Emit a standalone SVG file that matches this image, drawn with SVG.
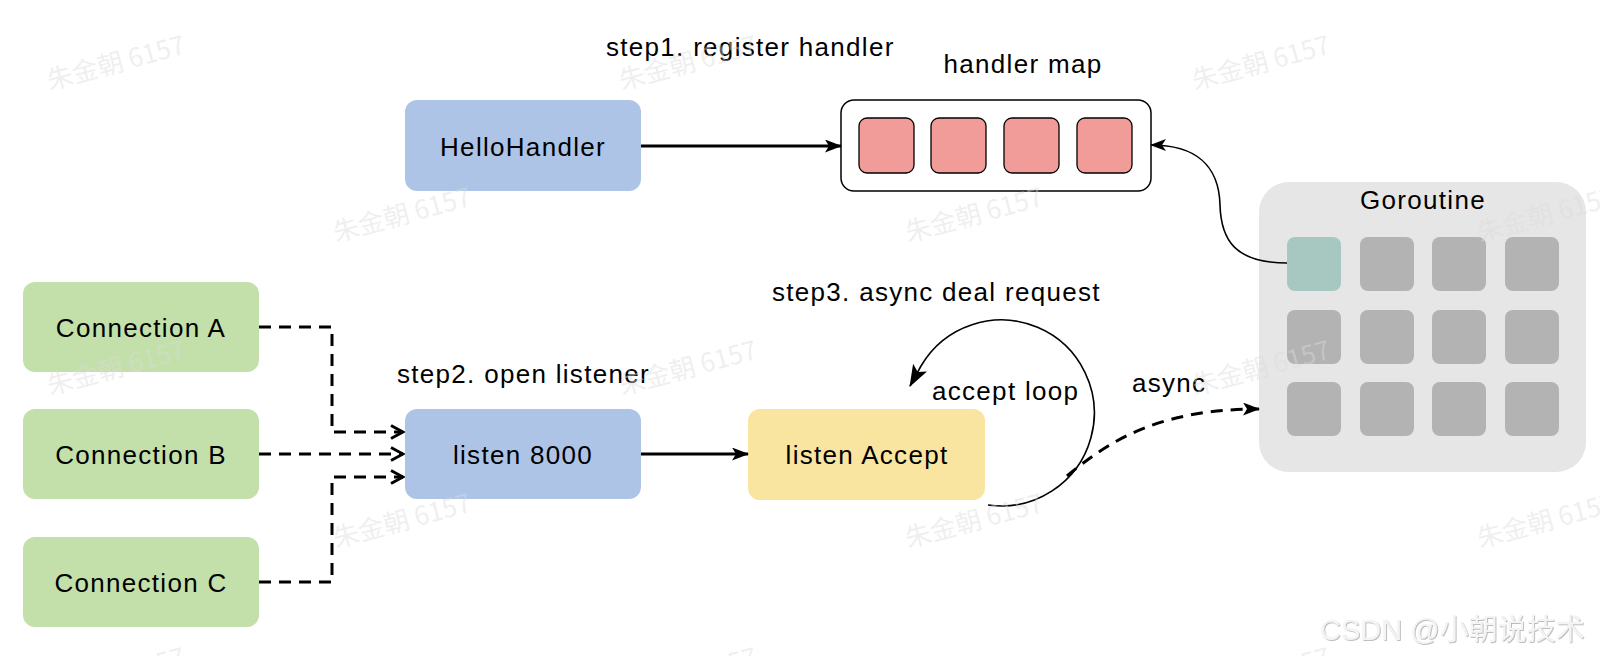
<svg xmlns="http://www.w3.org/2000/svg" width="1600" height="656" viewBox="0 0 1600 656">
  <style>
    .t { font-family: "Liberation Sans", Arial, Helvetica, sans-serif; font-size: 26px; letter-spacing: 1.3px; fill: #000; }
    .c { text-anchor: middle; }
    .blue { fill: #aec4e6; }
    .green { fill: #c3e0aa; }
    .yellow { fill: #fae5a0; }
    .red { fill: #f19c99; stroke: #000; stroke-width: 1.3; }
    .gray { fill: #b3b3b3; }
    .solid { fill: none; stroke: #000; stroke-width: 3; }
    .thin { fill: none; stroke: #000; stroke-width: 1.6; }
    .dash { fill: none; stroke: #000; stroke-width: 3; stroke-dasharray: 12 8; }
    .wm { font-family: "Noto Sans CJK SC", "Liberation Sans", sans-serif; font-size: 26px; fill: #dcdcdc; fill-opacity: 0.45; }
  </style>
  <defs>
    <marker id="arr" viewBox="0 0 17 13" refX="16" refY="6.5" markerWidth="17" markerHeight="13" markerUnits="userSpaceOnUse" orient="auto">
      <path d="M0,0 L17,6.5 L0,13 L4,6.5 Z" fill="#000"/>
    </marker>
    <marker id="arrS" viewBox="0 0 16 12" refX="15" refY="6" markerWidth="16" markerHeight="12" markerUnits="userSpaceOnUse" orient="auto">
      <path d="M0,0 L16,6 L0,12 L4,6 Z" fill="#000"/>
    </marker>
    <marker id="arrL" viewBox="0 0 22 16" refX="21" refY="8" markerWidth="22" markerHeight="16" markerUnits="userSpaceOnUse" orient="auto">
      <path d="M0,0 L22,8 L0,16 L5,8 Z" fill="#000"/>
    </marker>
    <marker id="open" viewBox="0 0 16 16" refX="14" refY="8" markerWidth="16" markerHeight="16" markerUnits="userSpaceOnUse" orient="auto">
      <path d="M2,1.5 L14,8 L2,14.5" fill="none" stroke="#000" stroke-width="3"/>
    </marker>
    <filter id="shadow" x="-5%" y="-20%" width="110%" height="140%">
      <feDropShadow dx="0.8" dy="0.8" stdDeviation="0.6" flood-color="#999" flood-opacity="0.8"/>
    </filter>
  </defs>

  <rect x="0" y="0" width="1600" height="656" fill="#ffffff"/>

  <!-- labels -->
  <text class="t" x="606" y="56">step1. register handler</text>
  <text class="t" x="397" y="383">step2. open listener</text>
  <text class="t" x="772" y="301">step3. async deal request</text>

  <!-- nodes -->
  <g id="hello-handler">
    <rect class="blue" x="405" y="100" width="236" height="91" rx="12"/>
    <text class="t c" x="523" y="156">HelloHandler</text>
  </g>

  <g id="handler-map">
    <text class="t c" x="1023" y="73">handler map</text>
    <rect x="841" y="100" width="310" height="91" rx="13" fill="#fff" stroke="#000" stroke-width="1.5"/>
    <rect class="red" x="859" y="118" width="55" height="55" rx="8"/>
    <rect class="red" x="931" y="118" width="55" height="55" rx="8"/>
    <rect class="red" x="1004" y="118" width="55" height="55" rx="8"/>
    <rect class="red" x="1077" y="118" width="55" height="55" rx="8"/>
  </g>

  <g id="connection-a">
    <rect class="green" x="23" y="282" width="236" height="90" rx="12"/>
    <text class="t c" x="141" y="337">Connection A</text>
  </g>
  <g id="connection-b">
    <rect class="green" x="23" y="409" width="236" height="90" rx="12"/>
    <text class="t c" x="141" y="464">Connection B</text>
  </g>
  <g id="connection-c">
    <rect class="green" x="23" y="537" width="236" height="90" rx="12"/>
    <text class="t c" x="141" y="592">Connection C</text>
  </g>

  <g id="listen-8000">
    <rect class="blue" x="405" y="409" width="236" height="90" rx="12"/>
    <text class="t c" x="523" y="464">listen 8000</text>
  </g>

  <g id="listen-accept">
    <rect class="yellow" x="748" y="409" width="237" height="91" rx="12"/>
    <text class="t c" x="867" y="464">listen Accept</text>
  </g>

  <g id="goroutine">
    <rect x="1259" y="182" width="327" height="290" rx="30" fill="#e6e6e6"/>
    <text class="t c" x="1423" y="209">Goroutine</text>
    <rect x="1287" y="237" width="54" height="54" rx="8" fill="#a6c8c0"/>
    <rect class="gray" x="1360" y="237" width="54" height="54" rx="8"/>
    <rect class="gray" x="1432" y="237" width="54" height="54" rx="8"/>
    <rect class="gray" x="1505" y="237" width="54" height="54" rx="8"/>
    <rect class="gray" x="1287" y="310" width="54" height="54" rx="8"/>
    <rect class="gray" x="1360" y="310" width="54" height="54" rx="8"/>
    <rect class="gray" x="1432" y="310" width="54" height="54" rx="8"/>
    <rect class="gray" x="1505" y="310" width="54" height="54" rx="8"/>
    <rect class="gray" x="1287" y="382" width="54" height="54" rx="8"/>
    <rect class="gray" x="1360" y="382" width="54" height="54" rx="8"/>
    <rect class="gray" x="1432" y="382" width="54" height="54" rx="8"/>
    <rect class="gray" x="1505" y="382" width="54" height="54" rx="8"/>
  </g>

  <!-- connectors -->
  <g id="connectors">
    <path class="solid" d="M641 146 H841" marker-end="url(#arr)"/>
    <path class="solid" d="M641 454 H748" marker-end="url(#arr)"/>
    <path class="dash" d="M259 327 H332 V432 H403" marker-end="url(#open)"/>
    <path class="dash" d="M259 454 H403" marker-end="url(#open)"/>
    <path class="dash" d="M259 582 H332 V477 H403" marker-end="url(#open)"/>
    <path class="thin" d="M988 505 A93 93 0 1 0 921 366 L910 386" marker-end="url(#arrL)"/>
    <path class="dash" d="M1067 476 C1110 440 1160 409 1259 409" marker-end="url(#arr)"/>
    <path class="thin" d="M1287 263 C1235 263 1221 240 1220 205 C1219 165 1195 145 1151 145" marker-end="url(#arrS)"/>
    <text class="t" x="932" y="400">accept loop</text>
    <text class="t" x="1132" y="392">async</text>
  </g>

  <!-- watermarks -->
  <g id="watermarks">
    <text class="wm" transform="translate(50 90) rotate(-15)">朱金朝 6157</text>
    <text class="wm" transform="translate(622 90) rotate(-15)">朱金朝 6157</text>
    <text class="wm" transform="translate(1195 90) rotate(-15)">朱金朝 6157</text>
    <text class="wm" transform="translate(336 242) rotate(-15)">朱金朝 6157</text>
    <text class="wm" transform="translate(908 242) rotate(-15)">朱金朝 6157</text>
    <text class="wm" transform="translate(1480 242) rotate(-15)">朱金朝 6157</text>
    <text class="wm" transform="translate(50 395) rotate(-15)">朱金朝 6157</text>
    <text class="wm" transform="translate(622 395) rotate(-15)">朱金朝 6157</text>
    <text class="wm" transform="translate(1195 395) rotate(-15)">朱金朝 6157</text>
    <text class="wm" transform="translate(336 548) rotate(-15)">朱金朝 6157</text>
    <text class="wm" transform="translate(908 548) rotate(-15)">朱金朝 6157</text>
    <text class="wm" transform="translate(1480 548) rotate(-15)">朱金朝 6157</text>
    <text class="wm" transform="translate(50 702) rotate(-15)">朱金朝 6157</text>
    <text class="wm" transform="translate(622 702) rotate(-15)">朱金朝 6157</text>
    <text class="wm" transform="translate(1195 702) rotate(-15)">朱金朝 6157</text>
    <text x="1320" y="640" filter="url(#shadow)" style="font-family:'Liberation Sans','Noto Sans CJK SC',sans-serif;font-size:29px;fill:#f4f4f4;">CSDN @小朝说技术</text>
  </g>
</svg>
